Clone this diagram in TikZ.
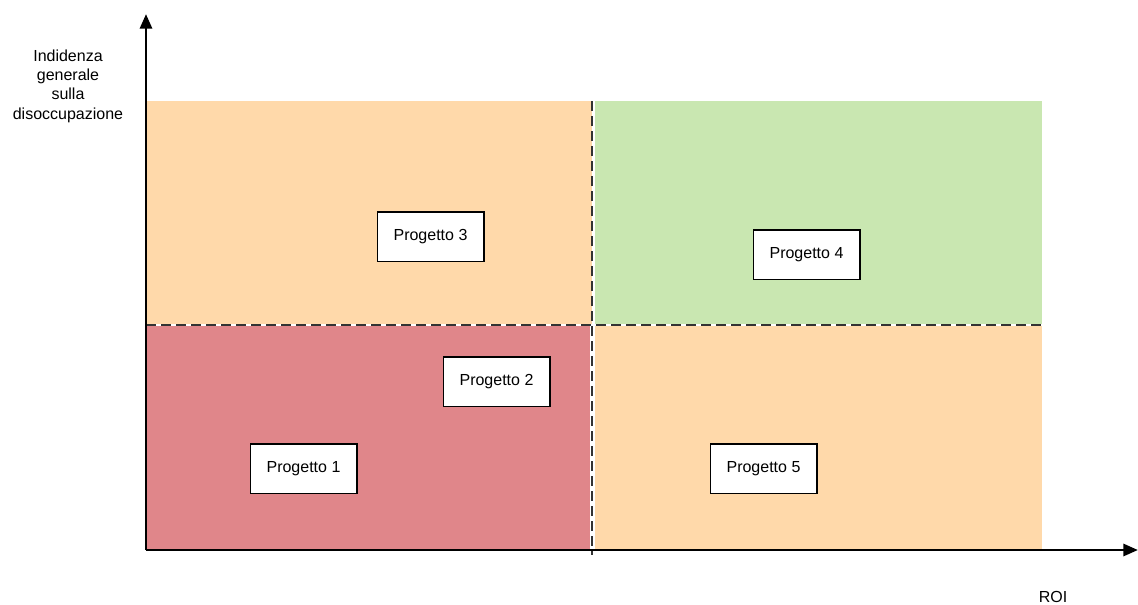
\documentclass[tikz,border=0pt]{standalone}
\usepackage{fontspec}
\setmainfont{Liberation Sans}
\usepackage{xcolor}
\usepackage{tikz}
\usetikzlibrary{positioning,arrows.meta}

\definecolor{arancio}{HTML}{FFD9AA}
\definecolor{verde}{HTML}{C9E7B1}
\definecolor{rosso}{HTML}{E0868A}

\tikzset{
  progbox/.style={draw, fill=white, line width=1pt, minimum width=80pt, minimum height=37pt, inner sep=0pt, font=\fontsize{12}{14}\selectfont},
  tratteggio/.style={draw=black!80, line width=1.3pt, dash pattern=on 7.5pt off 3.75pt},
  asse/.style={line width=2.2pt, -{Triangle[length=11pt, width=9pt]}}
}

\begin{document}
\begin{tikzpicture}[x=0.75pt, y=-0.75pt]
  \useasboundingbox (0,0) rectangle (1138,604);
  %quadranti
  \fill[arancio] (146,101) rectangle (592,325);
  \fill[verde] (595,101) rectangle (1042,325);
  \fill[rosso] (146,325) rectangle (590,550);
  \fill[arancio] (595,325) rectangle (1042,550);

  %linee tratteggiate
  \draw[white, line width=2pt] (146,325) -- (1046,325);
  \draw[white, line width=2pt] (593,101) -- (593,555);
  \draw[tratteggio] (146,325) -- (1046,325);
  \draw[tratteggio] (592,101) -- (592,555);

  %assi
  \coordinate (O) at (146,550);
  \coordinate (Y) at (146,14);
  \coordinate (X) at (1138,550);
  \draw[asse] (O) -- (Y);
  \draw[asse] (O) -- (X);

  %etichette
  \node[align=center, font=\fontsize{12}{14.5}\selectfont] (ylab) at (68,86) {Indidenza\\generale\\sulla\\disoccupazione};
  \node[font=\fontsize{12}{14}\selectfont] (xlab) at (1053,597) {ROI};

  %progetti
  \node[progbox] (p1) at (303.5,468.5) {Progetto 1};
  \node[progbox] (p2) at (496.5,381.5) {Progetto 2};
  \node[progbox] (p3) at (430.5,236.5) {Progetto 3};
  \node[progbox] (p4) at (806.5,254.5) {Progetto 4};
  \node[progbox] (p5) at (763.5,468.5) {Progetto 5};
\end{tikzpicture}
\end{document}
